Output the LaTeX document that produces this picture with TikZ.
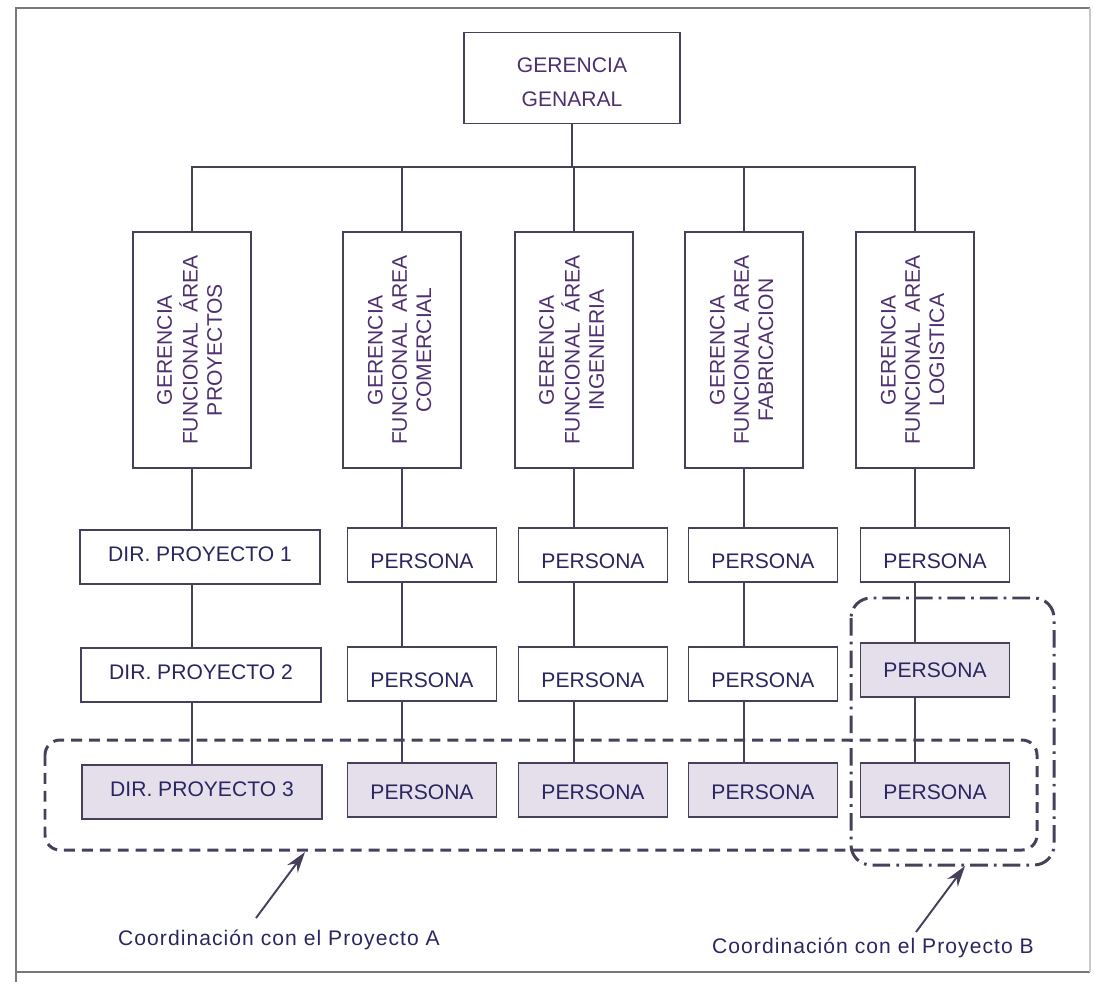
\documentclass[tikz,border=0pt]{standalone}
\usepackage{fontspec}
\setmainfont{Liberation Sans}
\usetikzlibrary{arrows.meta, positioning}

\definecolor{inkline}{RGB}{72,64,90}
\definecolor{txtpurple}{RGB}{78,48,112}
\definecolor{txtnavy}{RGB}{42,38,96}
\definecolor{hlfill}{RGB}{229,223,236}
\definecolor{framecol}{RGB}{120,120,124}

\newcommand{\vlabel}[1]{\rotatebox{90}{\begin{tabular}{@{}c@{}}#1\end{tabular}}}
\newcommand{\lowtext}[2]{\raisebox{-#1}[\height][\depth]{#2}}

\begin{document}
\begin{tikzpicture}[
  x=0.02cm, y=-0.02cm,
  font=\fontsize{12}{13.8}\selectfont,
  box/.style={draw=inkline, line width=1.1pt, inner sep=0pt, fill=white, text=txtnavy},
  topbox/.style={box, minimum width=4.32cm, minimum height=1.82cm, text=txtpurple, align=center},
  areabox/.style={box, minimum width=2.36cm, minimum height=4.72cm, text=txtpurple},
  rowbox/.style={box, minimum width=2.98cm, minimum height=1.08cm},
  dirbox/.style={rowbox, minimum width=4.8cm},
  hl/.style={fill=hlfill},
  link/.style={draw=inkline, line width=0.85pt},
  groupA/.style={draw=inkline, line width=1.7pt, dash pattern=on 6.2pt off 4pt, rounded corners=0.3cm},
  groupB/.style={draw=inkline, line width=1.7pt, dash pattern=on 10pt off 3.5pt on 1.5pt off 3.5pt, rounded corners=0.4cm},
  pointer/.style={-{Stealth[length=0.42cm, width=0.26cm]}, draw=inkline, line width=1.1pt},
  note/.style={text=txtnavy, font=\fontsize{12}{13.8}\selectfont\addfontfeature{LetterSpace=5}},
]
  % --- frame ---
  \draw[framecol, line width=0.9pt] (1090,8) -- (16,8) -- (16,982);
  \draw[framecol, line width=0.9pt] (16,972) -- (1090,972);
  \draw[framecol!40, line width=0.6pt] (1090,8) -- (1090,972);

  % --- top ---
  \node[topbox] (G) at (572,78) {\lowtext{0.14cm}{\begin{tabular}{@{}c@{}}GERENCIA\\[0.19cm]GENARAL\end{tabular}}};
  \coordinate (bus) at (572,167);

  % --- functional areas ---
  \foreach \n/\x/\txt in {
      1/192/{GERENCIA\\FUNCIONAL\enspace ÁREA\\PROYECTOS},
      2/402/{GERENCIA\\FUNCIONAL\enspace AREA\\COMERCIAL},
      3/574/{GERENCIA\\FUNCIONAL\enspace ÁREA\\INGENIERIA},
      4/744/{GERENCIA\\FUNCIONAL\enspace AREA\\FABRICACION},
      5/915/{GERENCIA\\FUNCIONAL\enspace AREA\\LOGISTICA}} {
    \node[areabox] (F\n) at (\x,350) {\vlabel{\txt}};
  }

  \draw[link] (G) -- (bus);
  \draw[link] (F1.north) |- (F5.north |- bus) -- (F5.north);
  \foreach \n in {2,3,4}
    \draw[link] (F\n.north) -- (F\n.north |- bus);

  % --- project directors ---
  \node[dirbox] (P11) at (200,557) {\lowtext{-0.06cm}{DIR. PROYECTO 1}};
  \node[dirbox] (P12) at (201,675) {\lowtext{-0.06cm}{DIR. PROYECTO 2}};
  \node[dirbox, hl] (P13) at (202,792) {\lowtext{-0.06cm}{DIR. PROYECTO 3}};

  % --- staff ---
  \foreach \c/\x in {2/422,3/593,4/763,5/935} {
    \node[rowbox] (P\c1) at (\x,555) {\lowtext{0.13cm}{PERSONA}};
    \node[rowbox, hl] (P\c3) at (\x,790) {\lowtext{0.04cm}{PERSONA}};
  }
  \foreach \c/\x in {2/422,3/593,4/763}
    \node[rowbox] (P\c2) at (\x,674) {\lowtext{0.13cm}{PERSONA}};
  \node[rowbox, hl] (P52) at (935,670) {PERSONA};

  % connect columns
  \foreach \c in {1,...,5} {
    \draw[link] (F\c.south) -- (F\c.south |- P\c1.north);
    \draw[link] (F\c |- P\c1.south) -- (F\c |- P\c2.north);
    \draw[link] (F\c |- P\c2.south) -- (F\c |- P\c3.north);
  }

  % --- coordination groups ---
  \draw[groupA] (45,740) rectangle (1037,850);
  \draw[groupB] (851,598) rectangle (1054,865);

  \node[note] (labA) at (279,940) {Coordinación con el Proyecto A};
  \node[note] (labB) at (873,948) {Coordinación con el Proyecto B};
  \coordinate (tailA) at (256,918);
  \coordinate (tipA) at (305,852);
  \coordinate (tailB) at (916,932);
  \coordinate (tipB) at (965,866);
  \draw[pointer] (tailA) -- (tipA);
  \draw[pointer] (tailB) -- (tipB);

  \useasboundingbox (0,0) rectangle (1094,982);
\end{tikzpicture}
\end{document}
